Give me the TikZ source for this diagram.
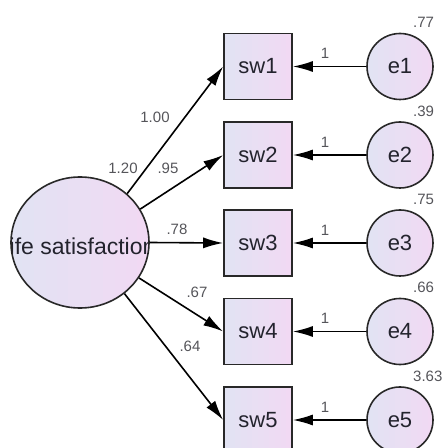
\documentclass[tikz,border=0pt]{standalone}
\usepackage{fontspec}
\setmainfont{Liberation Sans}
\usetikzlibrary{arrows.meta,shapes.geometric,calc}
\definecolor{fillL}{RGB}{226,227,243}
\definecolor{fillR}{RGB}{241,217,243}
\definecolor{edgec}{RGB}{40,40,40}
\definecolor{labgray}{RGB}{85,85,90}
\definecolor{txt}{RGB}{35,35,45}
\begin{document}
\begin{tikzpicture}[x=1pt,y=1pt,
  coef/.style={font=\fontsize{15}{18}\selectfont, text=labgray, inner sep=0pt},
  % left-to-right colour ramp built from plain filled strips
  grad/.style={path picture={
    \coordinate (pa) at (path picture bounding box.south west);
    \coordinate (pb) at (path picture bounding box.north east);
    \foreach \k [evaluate=\k as \pct using int(100*\k/11)] in {0,...,11}
      \fill[fillR!\pct!fillL] ($(pa)!{\k/12}!(pb |- pa)$) rectangle
        ($(pa |- pb)!{(\k+1.1)/12}!(pb)$);
    #1}},
  grad/.default={},
  latent/.style={ellipse, draw=edgec, line width=1.6pt,
    minimum width=138pt, minimum height=131pt, inner sep=0pt},
  obs/.style={rectangle, draw=edgec, grad, line width=1.6pt,
    minimum width=68pt, minimum height=66pt, inner sep=0pt, text=txt,
    font=\fontsize{22}{26}\selectfont},
  err/.style={circle, draw=edgec, grad, line width=1.6pt,
    minimum size=66pt, inner sep=0pt, text=txt,
    font=\fontsize{22}{26}\selectfont},
  link/.style={draw=black, line width=1.6pt, -{Latex[length=20pt,width=11pt]}}]
\useasboundingbox (0,0) rectangle (444,448);

% latent variable: colour ramp and name, both clipped to the ellipse
\node[latent, grad={\node[font=\fontsize{23}{27}\selectfont, text=txt,
    inner sep=0pt] (lsname) at ($(pa)!0.5!(pb)+(0,-4)$) {life satisfaction};}]
  (ls) at (80,205.5) {};

% indicators
\node[obs] (sw1) at (258,381.5) {sw1};
\node[obs] (sw2) at (258,293) {sw2};
\node[obs] (sw3) at (258,205) {sw3};
\node[obs] (sw4) at (258,116.5) {sw4};
\node[obs] (sw5) at (258,28) {sw5};

% error terms
\node[err] (e1) at (400,381.5) {e1};
\node[err] (e2) at (400,293) {e2};
\node[err] (e3) at (400,205) {e3};
\node[err] (e4) at (400,116.5) {e4};
\node[err] (e5) at (400,28) {e5};

\draw[link] (e1) -- (sw1);
\draw[link] (e2) -- (sw2);
\draw[link] (e3) -- (sw3);
\draw[link] (e4) -- (sw4);
\draw[link] (e5) -- (sw5);

\node[coef] (one1) at (325,394.5) {1};
\node[coef] (one2) at (325,306) {1};
\node[coef] (one3) at (325,218) {1};
\node[coef] (one4) at (325,129.5) {1};
\node[coef] (one5) at (325,41) {1};

\node[coef, anchor=west] (var1) at (413,425.5) {.77};
\node[coef, anchor=west] (var2) at (413,337) {.39};
\node[coef, anchor=west] (var3) at (413,249) {.75};
\node[coef, anchor=west] (var4) at (413,160.5) {.66};
\node[coef, anchor=west] (var5) at (413,72) {3.63};

% factor loadings
\draw[link] (ls.46) -- (sw1.west);
\draw[link] (ls.29) -- (sw2.west);
\draw[link] (ls.0) -- (sw3.west);
\draw[link] (ls.-31) -- (sw4.west);
\draw[link] (ls.-49) -- (sw5.west);

\node[coef] (l1) at (155,331) {1.00};
\node[coef] (lv) at (123,280) {1.20};
\node[coef] (l2) at (168,280) {.95};
\node[coef] (l3) at (177,219) {.78};
\node[coef] (l4) at (197,156) {.67};
\node[coef] (l5) at (190,102) {.64};
\end{tikzpicture}
\end{document}
